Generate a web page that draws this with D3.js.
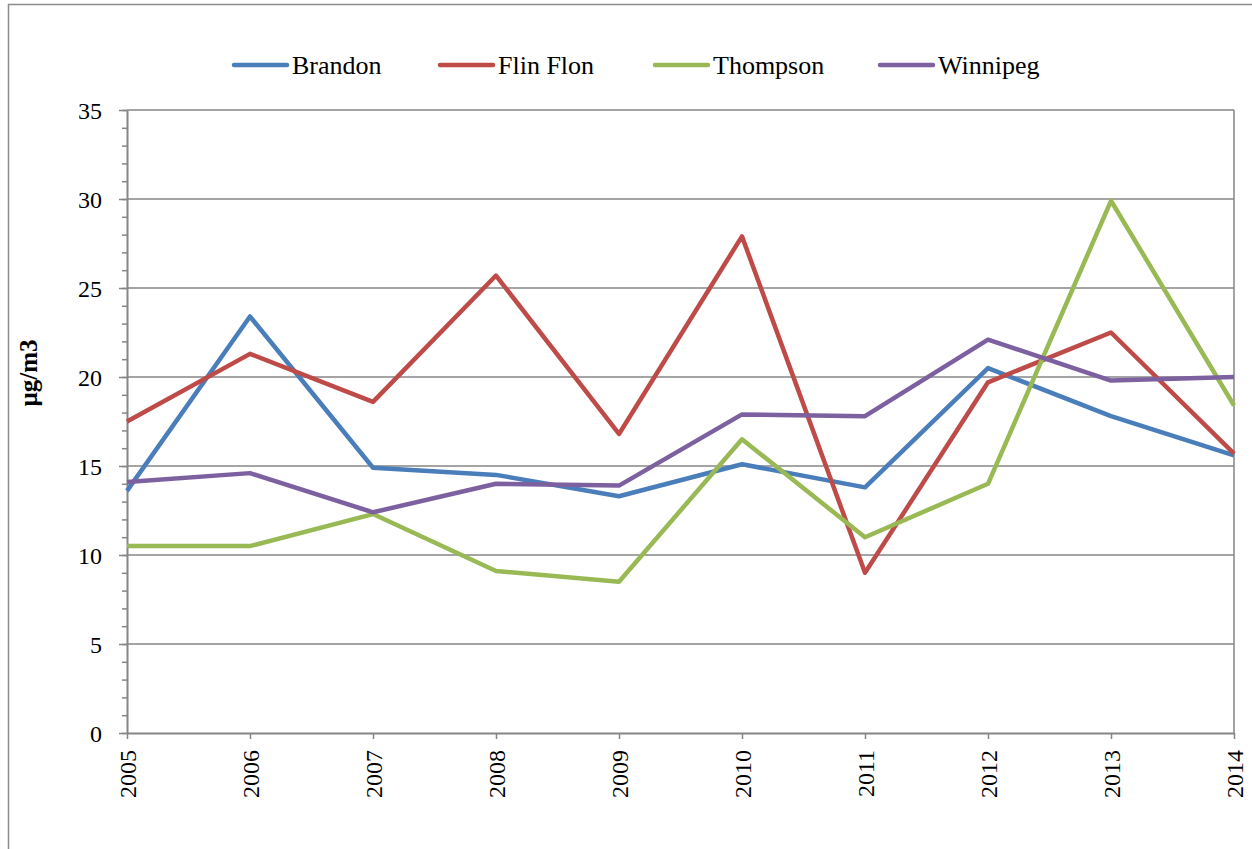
<!DOCTYPE html>
<html>
<head>
<meta charset="utf-8">
<script src="https://cdn.jsdelivr.net/npm/d3@7"></script>
<style>
  body { margin: 0; background: #fff; }
</style>
</head>
<body>
<script>
// data
let years = [2005, 2006, 2007, 2008, 2009, 2010, 2011, 2012, 2013, 2014];
let brandon  = [13.6, 23.4, 14.9, 14.5, 13.3, 15.1, 13.8, 20.5, 17.8, 15.6];
let flinFlon = [17.5, 21.3, 18.6, 25.7, 16.8, 27.9, 9.0, 19.7, 22.5, 15.7];
let thompson = [10.5, 10.5, 12.3, 9.1, 8.5, 16.5, 11.0, 14.0, 29.9, 18.4];
let winnipeg = [14.1, 14.6, 12.4, 14.0, 13.9, 17.9, 17.8, 22.1, 19.8, 20.0];
let seriesNames = ['Brandon', 'Flin Flon', 'Thompson', 'Winnipeg'];
let seriesColors = ['#4a7ebb', '#be4b48', '#98b954', '#7d60a0'];
let yTicks = [0, 5, 10, 15, 20, 25, 30, 35];

let series = [brandon, flinFlon, thompson, winnipeg].map((vals, i) => ({
    name: seriesNames[i], color: seriesColors[i], values: vals
}));

let w = 1252, h = 849;
let plotLeft = 127, plotRight = 1234, plotTop = 110, plotBottom = 733;
let grey = '#868686';
let serif = '"Liberation Serif"';

let svg = d3.select('body')
    .append('svg')
    .attr('width', w)
    .attr('height', h);

// outer chart frame
svg.append('rect')
    .attr('x', 8.5).attr('y', 4.5)
    .attr('width', 1300).attr('height', 900)
    .attr('fill', 'none')
    .attr('stroke', '#8c8c8c')
    .attr('stroke-width', 1.5);

let x = d3.scaleLinear()
    .domain([years[0], years[years.length - 1]])
    .range([plotLeft, plotRight]);

let y = d3.scaleLinear()
    .domain([0, 35])
    .range([plotBottom, plotTop]);

// gridlines
svg.append('g')
    .selectAll('line')
    .data(yTicks.filter(d => d > 0))
    .enter()
    .append('line')
    .attr('x1', plotLeft).attr('x2', plotRight)
    .attr('y1', d => y(d)).attr('y2', d => y(d))
    .attr('stroke', grey)
    .attr('stroke-width', 1.5);

// right border of plot area
svg.append('line')
    .attr('x1', plotRight).attr('x2', plotRight)
    .attr('y1', plotTop).attr('y2', plotBottom)
    .attr('stroke', grey).attr('stroke-width', 1.5);

// minor y ticks
svg.append('g')
    .attr('transform', `translate(${plotLeft},0)`)
    .call(d3.axisLeft(y).tickValues(d3.range(0, 36, 1)).tickSize(5).tickFormat(''))
    .call(g => g.select('.domain').remove())
    .call(g => g.selectAll('line').attr('stroke', grey).attr('stroke-width', 1.5));

// major y ticks + labels
let yAxis = svg.append('g')
    .attr('transform', `translate(${plotLeft},0)`)
    .call(d3.axisLeft(y).tickValues(yTicks).tickSize(8).tickPadding(17).tickSizeOuter(0));
yAxis.select('.domain').attr('stroke', grey).attr('stroke-width', 2);
yAxis.selectAll('line').attr('stroke', grey).attr('stroke-width', 1.5);
yAxis.selectAll('text')
    .style('font-family', serif)
    .style('font-size', '24px')
    .attr('fill', '#000')
    .attr('dy', '0.35em');

// x axis
let xAxis = svg.append('g')
    .attr('transform', `translate(0,${plotBottom})`)
    .call(d3.axisBottom(x).tickValues(years).tickFormat(d => d).tickSize(6).tickSizeOuter(0));
xAxis.select('.domain').attr('stroke', grey).attr('stroke-width', 2);
xAxis.selectAll('line').attr('stroke', grey).attr('stroke-width', 1.5);
xAxis.selectAll('text')
    .style('font-family', serif)
    .style('font-size', '24px')
    .attr('fill', '#000')
    .attr('transform', 'rotate(-90)')
    .attr('text-anchor', 'end')
    .attr('x', -17)
    .attr('y', 0)
    .attr('dy', '0.35em');

// y title
svg.append('text')
    .text('µg/m3')
    .attr('transform', `translate(37,373) rotate(-90)`)
    .attr('text-anchor', 'middle')
    .style('font-family', serif)
    .style('font-size', '25px')
    .style('font-weight', 'bold');

// lines
let line = d3.line()
    .x((d, i) => x(years[i]))
    .y(d => y(d));

svg.append('g')
    .selectAll('path')
    .data(series)
    .enter()
    .append('path')
    .attr('d', d => line(d.values))
    .attr('fill', 'none')
    .attr('stroke', d => d.color)
    .attr('stroke-width', 4.5)
    .attr('stroke-linejoin', 'round')
    .attr('stroke-linecap', 'butt');

// legend
let legendX = [234, 440, 655, 880];
let legend = svg.append('g')
    .selectAll('g')
    .data(series)
    .enter()
    .append('g')
    .attr('transform', (d, i) => `translate(${legendX[i]},65)`);

legend.append('line')
    .attr('x1', 0).attr('x2', 53)
    .attr('y1', 0).attr('y2', 0)
    .attr('stroke', d => d.color)
    .attr('stroke-width', 4.5)
    .attr('stroke-linecap', 'round');

legend.append('text')
    .text(d => d.name)
    .attr('x', 58)
    .attr('y', 9)
    .style('font-family', serif)
    .style('font-size', '26px');
</script>
</body>
</html>
